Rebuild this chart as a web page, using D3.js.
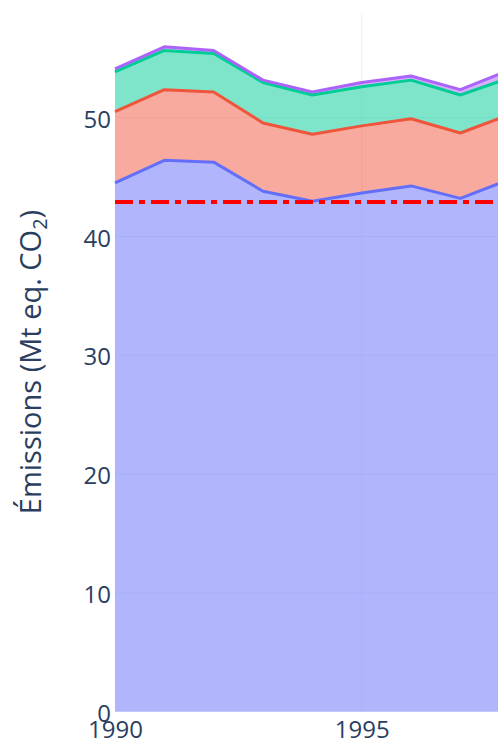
<!DOCTYPE html>
<html>
<head>
<meta charset="utf-8">
<script src="https://cdn.jsdelivr.net/npm/d3@7"></script>
<style>
  body { margin: 0; background: #fff; }
  svg { display: block; font-family: "Open Sans", sans-serif; }
</style>
</head>
<body>
<svg id="chart"></svg>
<script>
// data (Mt eq. CO2), one value per year
var years = [1990, 1991, 1992, 1993, 1994, 1995, 1996, 1997, 1998];
var seriesA = [44.5, 46.4, 46.25, 43.8, 42.95, 43.65, 44.25, 43.2, 44.8];
var seriesB = [6.0, 5.95, 5.9, 5.75, 5.65, 5.65, 5.65, 5.5, 5.45];
var seriesC = [3.35, 3.3, 3.25, 3.4, 3.3, 3.3, 3.25, 3.2, 3.1];
var seriesD = [0.25, 0.3, 0.25, 0.2, 0.25, 0.35, 0.35, 0.45, 0.65];
var target = 42.9;
var yTicks = [0, 10, 20, 30, 40, 50];
var xTicks = [1990, 1995];

var keys = ['a', 'b', 'c', 'd'];
var colors = { a: '#636efa', b: '#EF553B', c: '#00cc96', d: '#ab63fa' };

var W = 498, H = 741;
var plotLeft = 115, plotTop = 13, plotBottom = 711.7;

var svg = d3.select('#chart')
  .attr('width', W)
  .attr('height', H);

var rows = years.map(function(y, i) {
  return { year: y, a: seriesA[i], b: seriesB[i], c: seriesC[i], d: seriesD[i] };
});

var x = d3.scaleLinear()
  .domain([1990, 1998])
  .range([plotLeft, plotLeft + 8 * 49.34]);

var y = d3.scaleLinear()
  .domain([0, 58.8])
  .range([plotBottom, plotTop]);

// grid
var grid = svg.append('g');
grid.selectAll('line.h')
  .data(yTicks.slice(1))
  .enter().append('line')
  .attr('x1', plotLeft).attr('x2', W)
  .attr('y1', function(d) { return y(d); })
  .attr('y2', function(d) { return y(d); })
  .attr('stroke', '#EBF0F8')
  .attr('stroke-width', 1);
grid.selectAll('line.v')
  .data(xTicks.slice(1))
  .enter().append('line')
  .attr('x1', function(d) { return x(d); })
  .attr('x2', function(d) { return x(d); })
  .attr('y1', plotTop).attr('y2', plotBottom)
  .attr('stroke', '#EBF0F8')
  .attr('stroke-width', 1);

var stacked = d3.stack().keys(keys)(rows);

var area = d3.area()
  .x(function(d) { return x(d.data.year); })
  .y0(function(d) { return y(d[0]); })
  .y1(function(d) { return y(d[1]); });

var line = d3.line()
  .x(function(d) { return x(d.data.year); })
  .y(function(d) { return y(d[1]); });

svg.append('g').selectAll('path')
  .data(stacked)
  .enter().append('path')
  .attr('d', area)
  .attr('fill', function(s) { return colors[s.key]; })
  .attr('fill-opacity', 0.5);

svg.append('g').selectAll('path')
  .data(stacked)
  .enter().append('path')
  .attr('d', line)
  .attr('fill', 'none')
  .attr('stroke', function(s) { return colors[s.key]; })
  .attr('stroke-width', 3)
  .attr('stroke-linejoin', 'round');

// target line
svg.append('line')
  .attr('x1', x(1990)).attr('x2', W + 20)
  .attr('y1', y(target)).attr('y2', y(target))
  .attr('stroke', 'red')
  .attr('stroke-width', 4)
  .attr('stroke-dasharray', '18,6,6,6');

// axes
var yAxis = svg.append('g')
  .attr('transform', 'translate(' + plotLeft + ',0)')
  .call(d3.axisLeft(y).tickValues(yTicks).tickSize(0).tickPadding(4));
yAxis.select('.domain').remove();
yAxis.selectAll('text')
  .attr('fill', '#2a3f5f')
  .attr('font-size', 24)
  .attr('font-family', '"Open Sans", sans-serif')
  .attr('dy', '0.4em');

var xAxis = svg.append('g')
  .attr('transform', 'translate(0,' + plotBottom + ')')
  .call(d3.axisBottom(x).tickValues(xTicks).tickFormat(d3.format('d')).tickSize(0).tickPadding(9));
xAxis.select('.domain').remove();
xAxis.selectAll('text')
  .attr('fill', '#2a3f5f')
  .attr('font-size', 24)
  .attr('font-family', '"Open Sans", sans-serif');

// y title
var title = svg.append('text')
  .attr('transform', 'translate(41,362) rotate(-90)')
  .attr('text-anchor', 'middle')
  .attr('fill', '#2a3f5f')
  .attr('font-size', 29);
title.append('tspan').text('Émissions (Mt eq. CO');
title.append('tspan').attr('font-size', 20).attr('dy', 6).text('2');
title.append('tspan').attr('dy', -6).text(')');
</script>
</body>
</html>
